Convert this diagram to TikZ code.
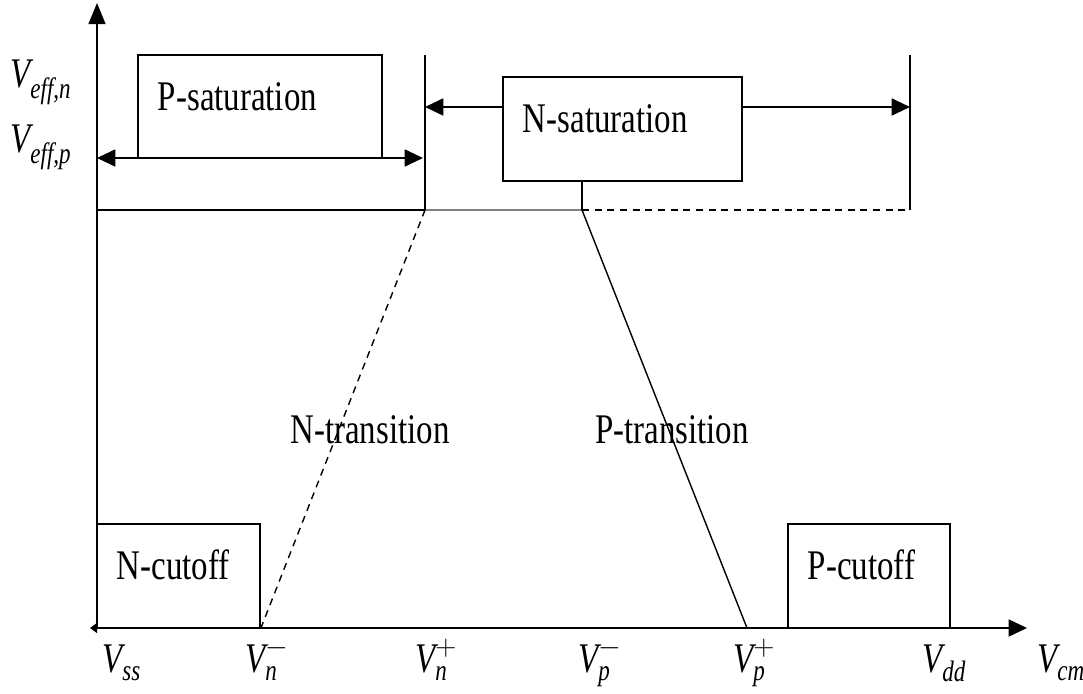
\documentclass[tikz,border=0pt]{standalone}
\usepackage{amsmath}
\usepackage{fontspec}
\setmainfont[FakeStretch=0.78]{Liberation Serif}
\usepackage{tikz}
\usetikzlibrary{arrows.meta, positioning, calc}

\newcommand{\vlab}[2]{$\text{\itshape V}_{\text{\itshape #1}}^{#2}$}

\begin{document}
\begin{tikzpicture}[
    x=0.025cm, y=-0.025cm,
    >={Triangle[length=13pt, width=12pt]},
    region/.style={draw, line width=0.9pt, align=left, inner xsep=0.5cm, inner ysep=0pt, text height=21pt, text depth=16pt, font=\fontsize{30}{34}\selectfont},
    tag/.style={font=\fontsize{30}{34}\selectfont},
    tick/.style={anchor=base west, inner sep=0pt, font=\fontsize{30}{34}\selectfont},
    axis/.style={line width=1.3pt},
    bound/.style={line width=1pt},
    span/.style={line width=1.5pt}
]
\useasboundingbox (0,0) rectangle (1083,694);

% axes
\coordinate (O) at (97,628);
\coordinate (xstart) at (90,628);
\coordinate (ytop) at (97,3);
\coordinate (xend) at (1027,628);
\draw[axis, -{Triangle[length=15pt, width=12pt]}] (O) -- (ytop);
\draw[axis, {Triangle[length=5pt, width=7pt]}->] (xstart) -- (xend);

% saturation level
\coordinate (sat0) at (97,210);
\coordinate (vnp) at (425,210);
\coordinate (vpm) at (582,210);
\coordinate (sat1) at (910,210);
\coordinate (vnptop) at (425,55);
\coordinate (sat1top) at (910,55);
\draw[bound] (sat0) -- (vnp);
\draw[line width=1.8pt, gray] (vnp) -- (vpm);
\draw[bound, dash pattern=on 5pt off 4pt] (vpm) -- (sat1);
\draw[bound] (vnp) -- (vnptop);
\draw[bound] (sat1) -- (sat1top);

% regions
\node[region, text width=5.1cm, minimum height=2.575cm] (psat) at (260,106.5) {P-saturation};
\node[region, text width=4.975cm, minimum height=2.6cm] (nsat) at (622.5,129) {N-saturation};
\node[region, text width=3.075cm, minimum height=2.6cm] (ncut) at (178.5,576) {N-cutoff};
\node[region, text width=3.05cm, minimum height=2.6cm] (pcut) at (869,576) {P-cutoff};

% saturation spans
\coordinate (pl) at (97,158);
\coordinate (pr) at (423,158);
\draw[span, <->] (pl) -- (pr);
\coordinate (nl) at (425,107);
\coordinate (nr) at (910,107);
\draw[span, ->] (nsat.west |- nl) -- (nl);
\draw[span, ->] (nsat.east |- nr) -- (nr);
\draw[bound] (nsat.south -| vpm) -- (vpm);

% transitions
\draw[bound, dash pattern=on 5pt off 4pt] (ncut.south east) -- (vnp);
\coordinate (vpp) at (747,628);
\draw[bound] (vpm) -- (vpp);
\node[tag] (ntr) at (370,430) {N-transition};
\node[tag] (ptr) at (672,430) {P-transition};

% axis labels
\node[tick] (veffn) at (10,88) {\vlab{eff,n}{}};
\node[tick] (veffp) at (10,153) {\vlab{eff,p}{}};
\node[tick] (vss) at (102,672) {\vlab{ss}{}};
\node[tick] (vnm) at (245,672) {\vlab{n}{-}};
\node[tick] (vnpl) at (415,672) {\vlab{n}{+}};
\node[tick] (vpml) at (578,672) {\vlab{p}{-}};
\node[tick] (vppl) at (733,672) {\vlab{p}{+}};
\node[tick] (vdd) at (922,672) {\vlab{dd}{}};
\node[tick] (vcm) at (1037,672) {\vlab{cm}{}};

\end{tikzpicture}
\end{document}
